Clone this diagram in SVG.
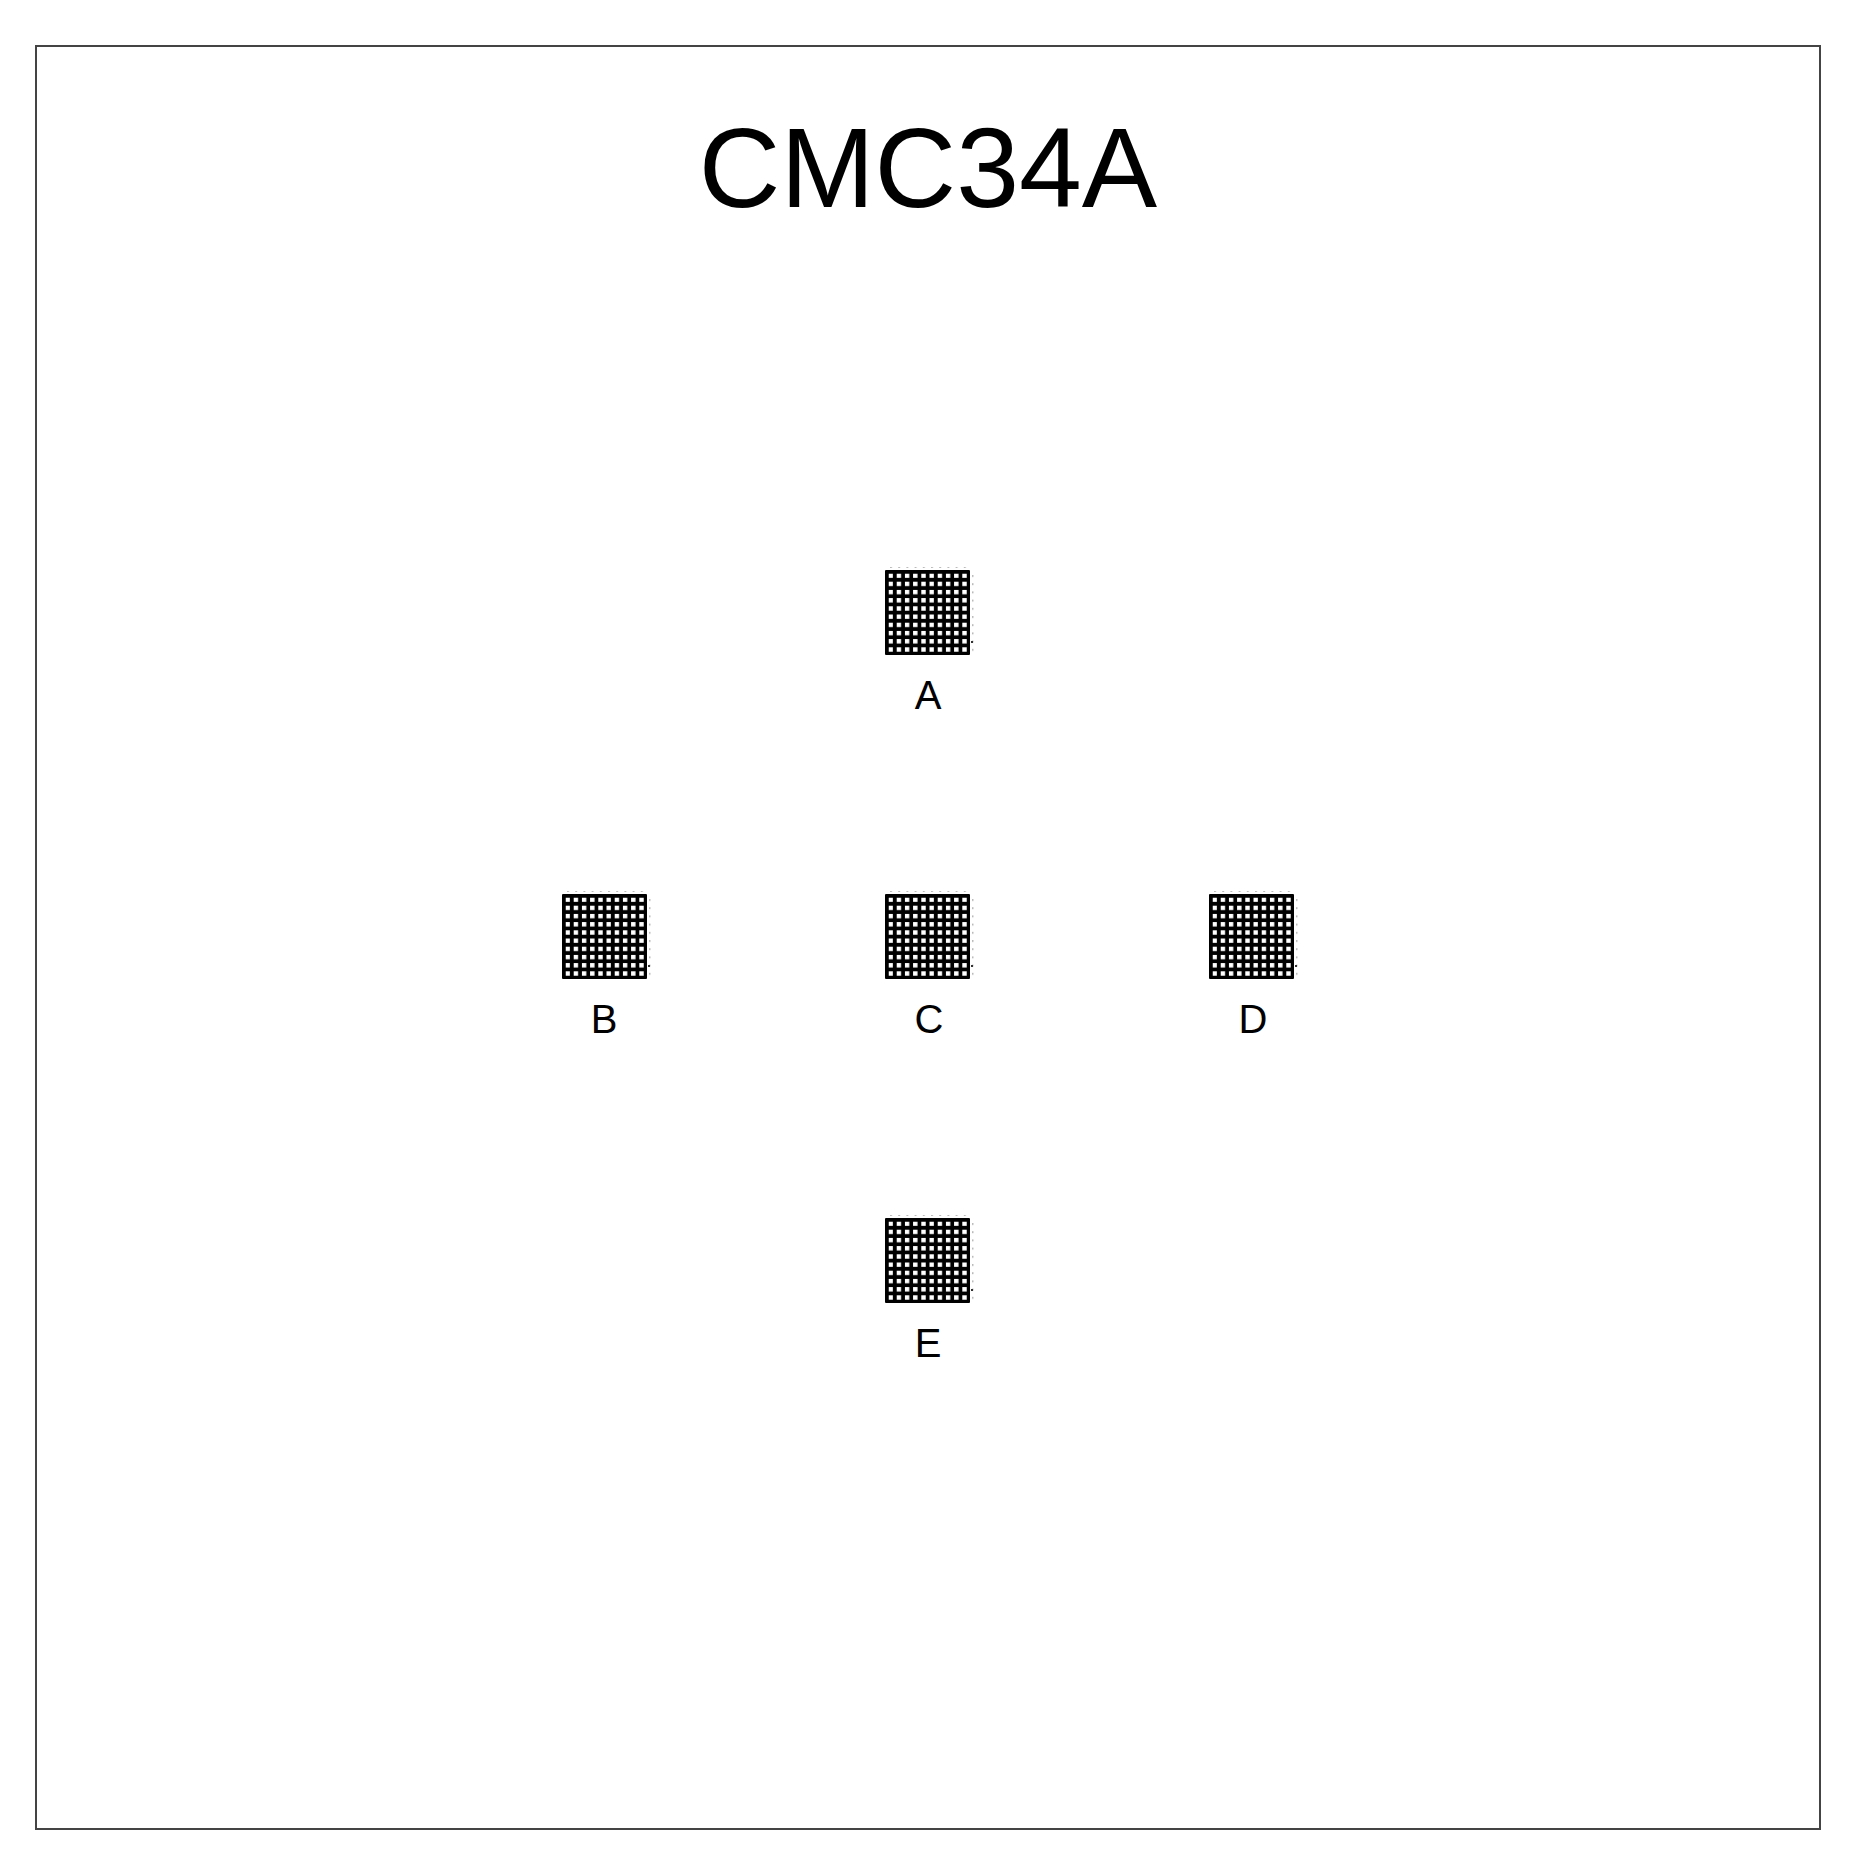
<svg xmlns="http://www.w3.org/2000/svg" xmlns:xlink="http://www.w3.org/1999/xlink" width="1860" height="1868" viewBox="0 0 1860 1868">
<style>
.frame{fill:none;stroke:#444;stroke-width:2}
.title{font-family:"Liberation Sans",Arial,sans-serif;font-size:113px;fill:#000;text-anchor:middle}
.lbl{font-family:"Liberation Sans",Arial,sans-serif;font-size:40px;fill:#000;text-anchor:middle}
</style>
<defs>
<pattern id="holes" x="3.5" y="3.5" width="8.2" height="8.2" patternUnits="userSpaceOnUse">
<rect x="0" y="0" width="4.4" height="4.4" fill="#fff"/>
</pattern>
<pattern id="ticksH" x="5" y="0" width="8.2" height="3" patternUnits="userSpaceOnUse">
<rect x="0" y="0" width="2" height="1.5" fill="#bbb"/>
</pattern>
<pattern id="ticksV" x="0" y="5" width="3" height="8.2" patternUnits="userSpaceOnUse">
<rect x="0" y="0" width="1.5" height="2" fill="#bbb"/>
</pattern>
<g id="bga">
<rect x="0" y="0" width="85" height="85" fill="#000" rx="1"/>
<rect x="3.5" y="3.5" width="81" height="81" fill="url(#holes)"/>
<rect x="3" y="-4" width="82" height="2" fill="url(#ticksH)"/>
<rect x="87" y="3" width="2" height="82" fill="url(#ticksV)"/>
<rect x="86" y="71" width="2" height="2" fill="#333"/>
</g>
</defs>
<rect x="0" y="0" width="1860" height="1868" fill="#fff"/>
<rect class="frame" x="36" y="46" width="1784" height="1783"/>
<text class="title" x="928" y="207">CMC34A</text>
<g id="node-A"><use xlink:href="#bga" transform="translate(885,570)"/><text class="lbl" x="928" y="709">A</text></g>
<g id="node-B"><use xlink:href="#bga" transform="translate(562,894)"/><text class="lbl" x="604" y="1033">B</text></g>
<g id="node-C"><use xlink:href="#bga" transform="translate(885,894)"/><text class="lbl" x="929" y="1033">C</text></g>
<g id="node-D"><use xlink:href="#bga" transform="translate(1209,894)"/><text class="lbl" x="1253" y="1033">D</text></g>
<g id="node-E"><use xlink:href="#bga" transform="translate(885,1218)"/><text class="lbl" x="928" y="1357">E</text></g>
<g id="connectors"></g>
</svg>
